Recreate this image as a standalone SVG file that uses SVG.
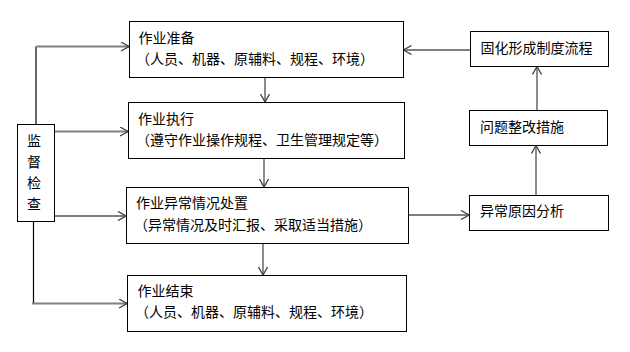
<svg xmlns="http://www.w3.org/2000/svg" width="630" height="352" viewBox="0 0 630 352">
<style>
.box{fill:#fff;stroke:#000;stroke-width:1}
.t{font-family:"Noto Sans CJK SC","Noto Sans",sans-serif;font-size:14px;fill:#000}
.g{stroke:#808080;stroke-width:1.8;fill:none}
.k{stroke:#000;stroke-width:1.2;fill:none}
</style>
<defs>
<marker id="ah" viewBox="0 0 10 10" refX="9.5" refY="5" markerUnits="userSpaceOnUse" markerWidth="10" markerHeight="10" orient="auto">
<path d="M1.5,0.5 L9.5,5 L1.5,9.5" fill="none" stroke="#404040" stroke-width="1.3"/>
</marker>
</defs>
<rect width="630" height="352" fill="#fff"/>
<g id="connectors">
<path class="k" d="M36,46.5 V124.5"/>
<path class="k" d="M33.5,221.5 V303.5"/>
<path class="g" d="M36,46.5 H129" marker-end="url(#ah)"/>
<path class="g" d="M54.5,131.5 H128" marker-end="url(#ah)"/>
<path class="g" d="M54.5,216 H126" marker-end="url(#ah)"/>
<path class="g" d="M32,303.5 H127" marker-end="url(#ah)"/>
<path class="g" d="M265,77.5 V102" marker-end="url(#ah)"/>
<path class="g" d="M264,158.5 V187" marker-end="url(#ah)"/>
<path class="g" d="M263,243.5 V275" marker-end="url(#ah)"/>
<path class="g" d="M408.5,215 H469" marker-end="url(#ah)"/>
<path class="g" d="M536,195.5 V145.5" marker-end="url(#ah)"/>
<path class="g" d="M537,110.5 V66.5" marker-end="url(#ah)"/>
<path class="g" d="M470.5,50 H403.5" marker-end="url(#ah)"/>
</g>
<g id="prep">
<rect class="box" x="129.5" y="21.5" width="274" height="56"/>
<text class="t" x="138.5" y="43">作业准备</text>
<text class="t" x="136" y="64">（人员、机器、原辅料、规程、环境）</text>
</g>
<g id="exec">
<rect class="box" x="128.5" y="102.5" width="276" height="56"/>
<text class="t" x="138" y="124">作业执行</text>
<text class="t" x="136" y="145">（遵守作业操作规程、卫生管理规定等）</text>
</g>
<g id="abnormal">
<rect class="box" x="126.5" y="187.5" width="282" height="56"/>
<text class="t" x="136" y="208">作业异常情况处置</text>
<text class="t" x="134" y="230">（异常情况及时汇报、采取适当措施）</text>
</g>
<g id="end">
<rect class="box" x="127.5" y="275.5" width="279" height="56"/>
<text class="t" x="137.5" y="296">作业结束</text>
<text class="t" x="135" y="317">（人员、机器、原辅料、规程、环境）</text>
</g>
<g id="monitor">
<rect class="box" x="17.5" y="124.5" width="37" height="97"/>
<text class="t" x="27" y="146">监</text>
<text class="t" x="27" y="167">督</text>
<text class="t" x="27" y="188">检</text>
<text class="t" x="27" y="209">查</text>
</g>
<g id="fix">
<rect class="box" x="470.5" y="31.5" width="138" height="35"/>
<text class="t" x="480.5" y="53">固化形成制度流程</text>
</g>
<g id="rectify">
<rect class="box" x="469.5" y="110.5" width="138" height="35"/>
<text class="t" x="480" y="132">问题整改措施</text>
</g>
<g id="cause">
<rect class="box" x="469.5" y="195.5" width="139" height="35"/>
<text class="t" x="480" y="216">异常原因分析</text>
</g>
</svg>
